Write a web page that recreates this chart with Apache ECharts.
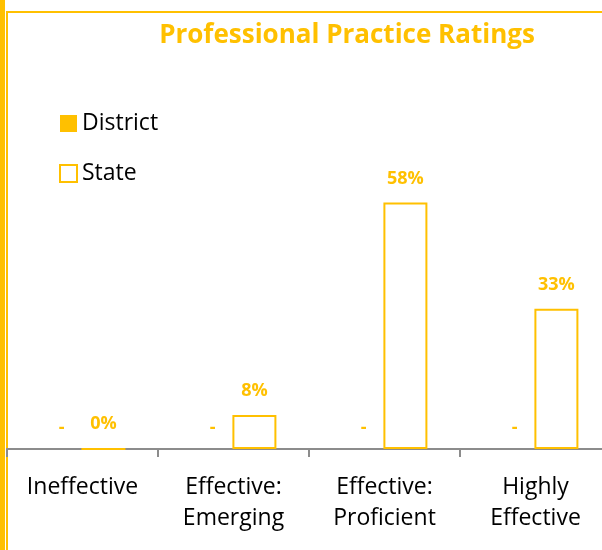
<!DOCTYPE html>
<html>
<head>
<meta charset="utf-8">
<script src="https://cdn.jsdelivr.net/npm/echarts@6/dist/echarts.min.js"></script>
<style>html,body{margin:0;padding:0;background:#fff;overflow:hidden;}#c{width:612px;height:550px;}</style>
</head>
<body>
<div id="c"></div>
<script>
var categories = ['Ineffective', 'Effective:\nEmerging', 'Effective:\nProficient', 'Highly\nEffective'];
var districtValues = [0, 0, 0, 0];
var stateValues = [0, 8, 58, 33];
var gold = '#FFC000';

var chart = echarts.init(document.getElementById('c'));
chart.setOption({
  animation: false,
  backgroundColor: '#fff',
  title: {
    text: 'Professional Practice Ratings',
    left: 342, top: 18, textAlign: 'center',
    textStyle: { color: gold, fontFamily: 'Open Sans', fontWeight: 'bold', fontSize: 26 }
  },
  legend: {
    orient: 'vertical', left: 54, top: 107,
    itemWidth: 17, itemHeight: 17, itemGap: 27,
    textStyle: { fontFamily: 'Open Sans', fontSize: 23, color: '#000' },
    data: [
      { name: 'District', icon: 'rect', itemStyle: { color: gold, borderWidth: 0 } },
      { name: 'State', icon: 'rect', itemStyle: { color: '#fff', borderColor: gold, borderWidth: 2 } }
    ]
  },
  graphic: [
    { type: 'rect', shape: { x: 0, y: 0, width: 5, height: 550 }, style: { fill: gold } },
    { type: 'rect', shape: { x: 7, y: 12, width: 620, height: 545 }, style: { fill: 'none', stroke: gold, lineWidth: 2 } }
  ],
  grid: { left: 7, right: 1, top: 24, bottom: 101, containLabel: false },
  xAxis: {
    type: 'category', data: categories,
    axisLine: { lineStyle: { color: '#8C8C8C', width: 2 } },
    axisTick: { show: true, length: 8, lineStyle: { color: '#8C8C8C', width: 2 } },
    axisLabel: { fontFamily: 'Open Sans', fontSize: 23, color: '#000', lineHeight: 31, margin: 23, interval: 0 }
  },
  yAxis: { type: 'value', min: 0, max: 100, show: false, splitLine: { show: false } },
  series: [
    {
      name: 'District', type: 'bar', data: districtValues, barWidth: 44, barGap: '-5%',
      itemStyle: { color: gold },
      label: { show: true, position: 'top', distance: 12, formatter: '-', color: gold, fontFamily: 'Open Sans', fontWeight: 'bold', fontSize: 18 }
    },
    {
      name: 'State', type: 'bar', data: stateValues, barWidth: 44,
      itemStyle: { color: '#fff', borderColor: gold, borderWidth: 2 },
      label: { show: true, position: 'top', distance: 15, formatter: '{c}%', color: gold, fontFamily: 'Open Sans', fontWeight: 'bold', fontSize: 18 }
    }
  ]
});
</script>
</body>
</html>
